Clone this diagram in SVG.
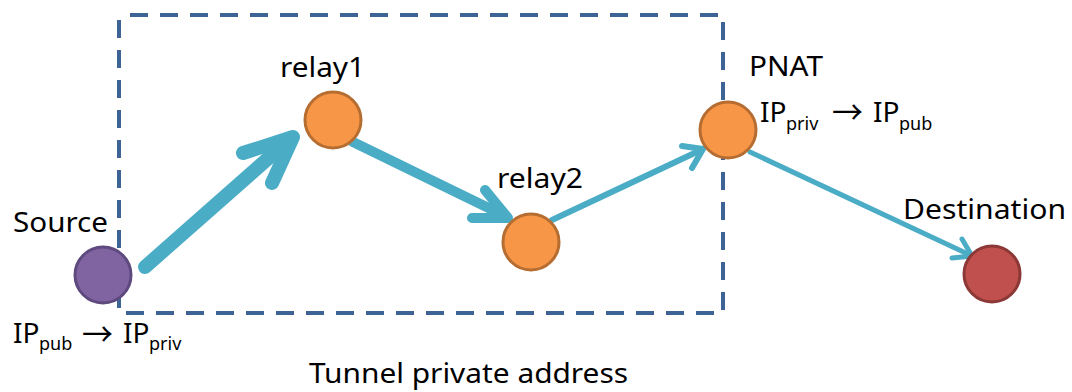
<svg xmlns="http://www.w3.org/2000/svg" width="1072" height="392" viewBox="0 0 1072 392">
  <style>
    .lbl { font-family: "Noto Sans", "Open Sans", "DejaVu Sans", sans-serif; font-size: 28px; fill: #000; }
    .sub { font-size: 18px; }
    .arr { font-family: "Noto Sans CJK JP", "DejaVu Sans", sans-serif; font-size: 32px; }
    .link { fill: none; stroke: #4BACC6; stroke-linecap: round; stroke-linejoin: round; }
    .node { stroke-width: 3; }
    .relay { fill: #F79646; stroke: #B66D31; }
  </style>

  <rect width="1072" height="392" fill="#ffffff"/>

  <!-- tunnel boundary -->
  <g id="tunnel">
    <rect x="119" y="15" width="604" height="298" fill="none" stroke="#3E6496" stroke-width="4" stroke-dasharray="18 12" stroke-dashoffset="19"/>
    <text class="lbl" x="309" y="383" textLength="319" lengthAdjust="spacingAndGlyphs">Tunnel private address</text>
  </g>

  <!-- connectors -->
  <g id="connectors">
    <g id="source-relay1">
      <path class="link" stroke-width="14" d="M145,267 L289,140"/>
      <path class="link" stroke-width="14" d="M243,153 L293,137 L272,183"/>
    </g>
    <g id="relay1-relay2">
      <path class="link" stroke-width="10" d="M353,142 L505,216"/>
      <path class="link" stroke-width="10" d="M485,190 L508,218 L472,218"/>
    </g>
    <g id="relay2-pnat">
      <path class="link" stroke-width="6" d="M552,220 L701,150"/>
      <path class="link" stroke-width="6" d="M682,146 L703,149 L692,168"/>
    </g>
    <g id="pnat-destination">
      <path class="link" stroke-width="5" d="M750,152 L970,255"/>
      <path class="link" stroke-width="5" d="M962,239 L972,256 L952,258"/>
    </g>
  </g>

  <!-- nodes -->
  <g id="source">
    <circle class="node" cx="103" cy="275" r="28" fill="#8064A2" stroke="#5E4A7E"/>
    <text class="lbl" x="13" y="232" textLength="95" lengthAdjust="spacingAndGlyphs">Source</text>
    <text class="lbl" x="13" y="343">IP</text>
    <text class="lbl sub" x="39" y="350">pub</text>
    <text class="lbl arr" x="82" y="346" textLength="31" lengthAdjust="spacingAndGlyphs">→</text>
    <text class="lbl" x="123" y="343">IP</text>
    <text class="lbl sub" x="149" y="350">priv</text>
  </g>

  <g id="relay1">
    <circle class="node relay" cx="333" cy="120" r="28"/>
    <text class="lbl" x="280" y="77" textLength="85" lengthAdjust="spacingAndGlyphs">relay1</text>
  </g>

  <g id="relay2">
    <circle class="node relay" cx="531" cy="242" r="28"/>
    <text class="lbl" x="497" y="188" textLength="86" lengthAdjust="spacingAndGlyphs">relay2</text>
  </g>

  <g id="pnat">
    <circle class="node relay" cx="728" cy="130" r="28"/>
    <text class="lbl" x="749" y="76" textLength="74" lengthAdjust="spacingAndGlyphs">PNAT</text>
    <text class="lbl" x="760" y="122">IP</text>
    <text class="lbl sub" x="786" y="130">priv</text>
    <text class="lbl arr" x="832" y="124" textLength="31" lengthAdjust="spacingAndGlyphs">→</text>
    <text class="lbl" x="873" y="122">IP</text>
    <text class="lbl sub" x="899" y="130">pub</text>
  </g>

  <g id="destination">
    <circle class="node" cx="992" cy="274" r="28" fill="#C0504D" stroke="#8C3836"/>
    <text class="lbl" x="903" y="219" textLength="163" lengthAdjust="spacingAndGlyphs">Destination</text>
  </g>
</svg>
